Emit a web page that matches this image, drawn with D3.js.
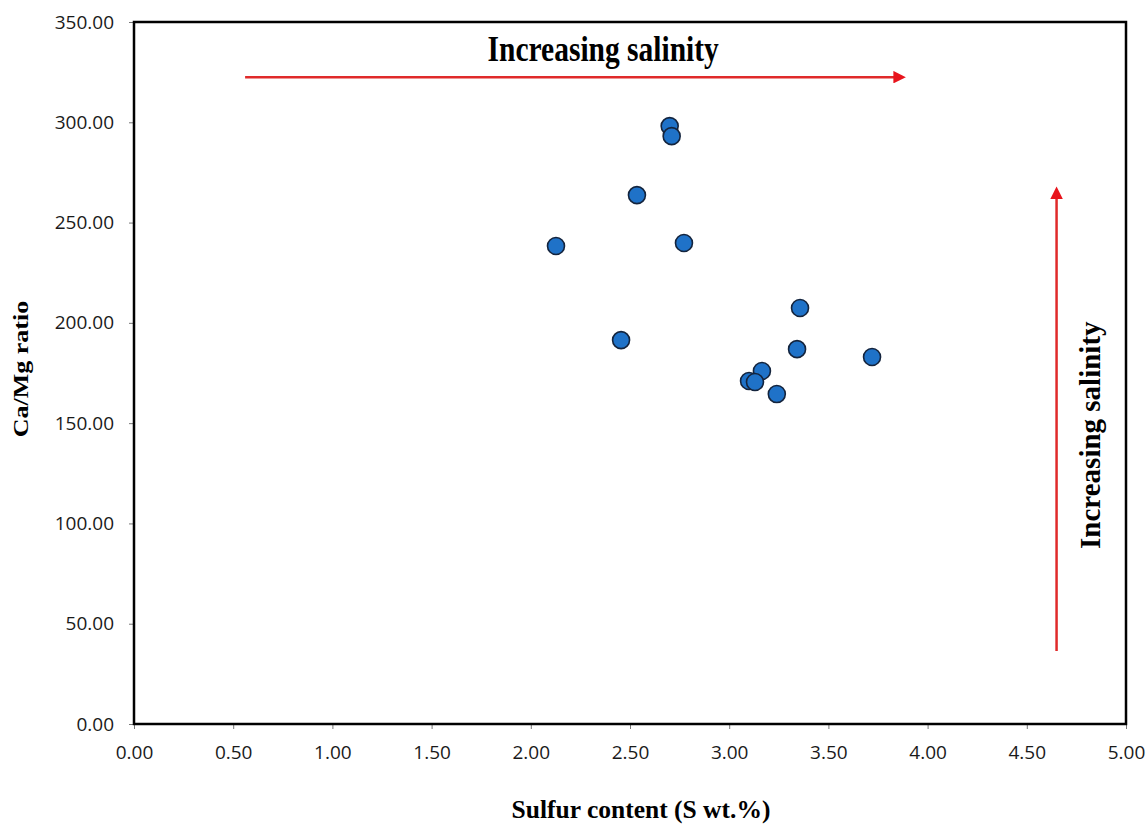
<!DOCTYPE html>
<html>
<head>
<meta charset="utf-8">
<script src="https://cdn.jsdelivr.net/npm/d3@7"></script>
<style>
  body { margin: 0; background: #fff; }
</style>
</head>
<body>
<div id="chart"></div>
<script>
// sulfur content (S wt.%) and Ca/Mg ratio
const sulfur = [2.70, 2.71, 2.535, 2.127, 2.772, 2.455, 3.357, 3.342, 3.72, 3.165, 3.10, 3.13, 3.24];
const caMg = [298.1, 293.1, 263.7, 238.3, 239.8, 191.4, 207.4, 186.9, 183.0, 176.0, 171.0, 170.5, 164.5];
const xTicks = [0, 0.5, 1, 1.5, 2, 2.5, 3, 3.5, 4, 4.5, 5];
const yTicks = [0, 50, 100, 150, 200, 250, 300, 350];

var W = 1146, H = 826;
var margin = { top: 22, right: 20, bottom: 102, left: 134 },
    width = 1126 - margin.left,
    height = 724 - margin.top;

var svg = d3.select("#chart")
    .append("svg")
    .attr("width", W)
    .attr("height", H);

var g = svg.append("g")
    .attr("transform", "translate(" + margin.left + "," + margin.top + ")");

var x = d3.scaleLinear().domain([0, 5]).range([0, width]);
var y = d3.scaleLinear().domain([0, 350]).range([height, 0]);

// axes
var xAxis = g.append("g")
    .attr("transform", "translate(0," + height + ")")
    .call(d3.axisBottom(x).tickValues(xTicks).tickFormat(d3.format(".2f")).tickSize(5).tickPadding(17));
var yAxis = g.append("g")
    .call(d3.axisLeft(y).tickValues(yTicks).tickFormat(d3.format(".2f")).tickSize(5).tickPadding(15));

[xAxis, yAxis].forEach(a => {
    a.select(".domain").remove();
    a.selectAll("line").attr("stroke", "#777").attr("stroke-width", 1);
    a.selectAll("text")
        .attr("fill", "#1a1a1a")
        .style("font-family", "Open Sans, DejaVu Sans, sans-serif")
        .style("font-size", "19px");
});

// frame
g.append("rect")
    .attr("x", 0).attr("y", 0)
    .attr("width", width).attr("height", height)
    .attr("fill", "none")
    .attr("stroke", "#000")
    .attr("stroke-width", 2.5);

// arrows
svg.append("defs").append("marker")
    .attr("id", "head")
    .attr("viewBox", "0 0 10 10")
    .attr("refX", 2).attr("refY", 5)
    .attr("markerWidth", 5).attr("markerHeight", 5)
    .attr("orient", "auto")
    .append("path")
    .attr("d", "M0,0 L10,5 L0,10 z")
    .attr("fill", "#e8141c");

g.append("line")
    .attr("x1", x(0.56)).attr("y1", y(322.5))
    .attr("x2", x(3.84)).attr("y2", y(322.5))
    .attr("stroke", "#e02a2a").attr("stroke-width", 2.5)
    .attr("marker-end", "url(#head)");

g.append("line")
    .attr("x1", x(4.65)).attr("y1", y(36.4))
    .attr("x2", x(4.65)).attr("y2", y(263))
    .attr("stroke", "#e02a2a").attr("stroke-width", 2.5)
    .attr("marker-end", "url(#head)");

var serif = "Liberation Serif, Times New Roman, serif";

// top annotation, drawn a bit taller than wide like the source
g.append("text")
    .attr("transform", "translate(" + x(2.365) + "," + (y(332) + 3) + ") scale(1,1.22)")
    .attr("text-anchor", "middle")
    .style("font-family", serif).style("font-weight", "bold").style("font-size", "29.5px")
    .text("Increasing salinity");

g.append("text")
    .attr("transform", "translate(" + (x(4.82) + 10) + "," + y(144) + ") rotate(-90)")
    .attr("text-anchor", "middle")
    .style("font-family", serif).style("font-weight", "bold").style("font-size", "29px")
    .text("Increasing salinity");

// points
g.selectAll("circle.pt")
    .data(sulfur.map((s, i) => ({ s: s, r: caMg[i] })))
    .enter()
    .append("circle")
    .attr("class", "pt")
    .attr("cx", d => x(d.s))
    .attr("cy", d => y(d.r))
    .attr("r", 8.5)
    .attr("fill", "#1f72c8")
    .attr("stroke", "#14243d")
    .attr("stroke-width", 1.6);

// axis labels
svg.append("text")
    .attr("x", 641).attr("y", 818)
    .attr("text-anchor", "middle")
    .style("font-family", serif).style("font-weight", "bold").style("font-size", "25.5px")
    .text("Sulfur content (S wt.%)");

svg.append("text")
    .attr("transform", "translate(28,369) rotate(-90) scale(1.3,1)")
    .attr("text-anchor", "middle")
    .style("font-family", serif).style("font-weight", "bold").style("font-size", "20px")
    .text("Ca/Mg ratio");
</script>
</body>
</html>
